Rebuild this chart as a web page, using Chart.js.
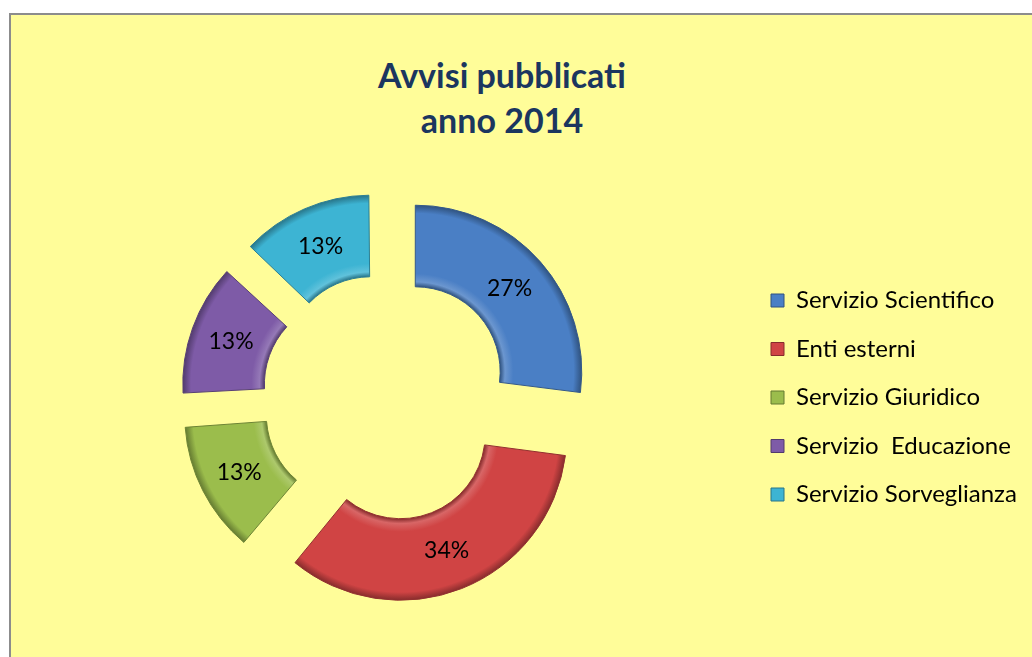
<!DOCTYPE html>
<html>
<head>
<meta charset="utf-8">
<title>Avvisi pubblicati anno 2014</title>
<script src="https://cdn.jsdelivr.net/npm/chart.js@4.4.1/dist/chart.umd.min.js"></script>
<style>
    html, body { margin: 0; padding: 0; background: #fff; overflow: hidden; }
    #panel {
        position: absolute; left: 9px; top: 13px; width: 1100px; height: 700px;
        background: #fffd99; border-left: 2px solid #8c8c8c; border-top: 2px solid #8c8c8c;
    }
    #title {
        position: absolute; left: 0; top: 52px; width: 1004px; text-align: center;
        font: bold 34px/45px Lato, sans-serif; color: #1b365f;
    }
    #chartBox { position: absolute; left: 0; top: 0; width: 1032px; height: 657px; }
</style>
</head>
<body>
<div id="panel"></div>
<div id="title">Avvisi pubblicati<br>anno 2014</div>
<div id="chartBox"><canvas id="avvisiChart" width="1032" height="657"></canvas></div>
<script>
const categories = ['Servizio Scientifico', 'Enti esterni', 'Servizio Giuridico', 'Servizio  Educazione', 'Servizio Sorveglianza'];
const percentages = [27, 34, 13, 13, 13];
const sliceColors = ['#4a7fc5', '#d04444', '#9bbd4c', '#7e5ba7', '#3db4d3'];

// layout
const RADIUS = 166.5;
const CUTOUT = 0.51;
const EXPLODE = 39;
const CENTER_X = 386;
const CENTER_Y = 397.5;
const LEGEND_FONT = 24;
const ROW_GAP = 48.5;
const BOX_X = 771;
const LEGEND_PAD = ROW_GAP - LEGEND_FONT;
const legendLeft = BOX_X - LEGEND_PAD;
const LEGEND_WIDTH = 1032 - legendLeft;
const TOP_PAD = 150;

function shade(hex, amt) {
    const n = parseInt(hex.slice(1), 16);
    const t = amt < 0 ? 0 : 255;
    const p = Math.abs(amt);
    const ch = [n >> 16, (n >> 8) & 255, n & 255].map(v => Math.round((t - v) * p + v));
    return 'rgb(' + ch.join(',') + ')';
}

// chart.js grows the radii of narrow arcs when they are offset; this is that factor
function arcFix(arc) {
    return 1 - Math.sin(Math.min(Math.PI, arc.circumference || 0));
}

// keep exploded slices at the same radius, so they only slide outwards
const pureExplode = {
    id: 'pureExplode',
    afterDatasetsUpdate(chart) {
        chart.getDatasetMeta(0).data.forEach(function (arc) {
            const grow = EXPLODE * arcFix(arc);
            arc.innerRadius -= grow;
            arc.outerRadius -= grow;
        });
    }
};

const percentLabels = {
    id: 'percentLabels',
    afterDatasetsDraw(chart) {
        const c = chart.ctx;
        const arcs = chart.getDatasetMeta(0).data;
        c.save();
        c.font = '23px Lato, sans-serif';
        c.fillStyle = '#000';
        c.textAlign = 'center';
        c.textBaseline = 'middle';
        arcs.forEach(function (arc, i) {
            const mid = (arc.startAngle + arc.endAngle) / 2;
            const dist = (arc.innerRadius + arc.outerRadius) / 2 + EXPLODE * (1 + arcFix(arc));
            c.fillText(percentages[i] + '%', arc.x + Math.cos(mid) * dist, arc.y + Math.sin(mid) * dist);
        });
        c.restore();
    }
};

const legendWidthFix = {
    id: 'legendWidthFix',
    beforeLayout(chart) {
        const legend = chart.legend;
        if (legend && !legend._fixed) {
            const fit = legend.fit;
            legend.fit = function () {
                fit.call(this);
                this.width = LEGEND_WIDTH;
            };
            legend._fixed = true;
        }
    }
};

const ctx = document.getElementById('avvisiChart').getContext('2d');
const avvisiChart = new Chart(ctx, {
    type: 'doughnut',
    data: {
        labels: categories,
        datasets: [{
            data: percentages,
            backgroundColor: function (c) {
                const base = sliceColors[c.dataIndex];
                const area = c.chart.chartArea;
                if (!area) return base;
                const cx = (area.left + area.right) / 2;
                const cy = (area.top + area.bottom) / 2;
                const g = c.chart.ctx.createRadialGradient(cx, cy, RADIUS * CUTOUT, cx, cy, RADIUS);
                g.addColorStop(0, shade(base, -0.35));
                g.addColorStop(0.06, shade(base, 0.18));
                g.addColorStop(0.16, base);
                g.addColorStop(0.9, base);
                g.addColorStop(1, shade(base, -0.35));
                return g;
            },
            borderColor: sliceColors.map(c => shade(c, -0.3)),
            borderWidth: 1,
            offset: 4 * EXPLODE
        }]
    },
    options: {
        responsive: false,
        animation: false,
        events: [],
        radius: RADIUS,
        cutout: (CUTOUT * 100) + '%',
        layout: {
            padding: {
                left: 2 * CENTER_X - legendLeft,
                right: 0,
                top: TOP_PAD,
                bottom: 657 - (2 * CENTER_Y - TOP_PAD)
            }
        },
        plugins: {
            title: { display: false },
            tooltip: { enabled: false },
            legend: {
                position: 'right',
                fullSize: false,
                align: 'center',
                labels: {
                    boxWidth: 13,
                    boxHeight: 13,
                    padding: LEGEND_PAD,
                    color: '#000',
                    font: { family: 'Lato', size: LEGEND_FONT },
                    generateLabels: function () {
                        return categories.map((text, i) => ({
                            text: text,
                            fillStyle: sliceColors[i],
                            strokeStyle: shade(sliceColors[i], -0.35),
                            lineWidth: 1,
                            hidden: false,
                            index: i
                        }));
                    }
                }
            }
        }
    },
    plugins: [legendWidthFix, pureExplode, percentLabels]
});
</script>
</body>
</html>
